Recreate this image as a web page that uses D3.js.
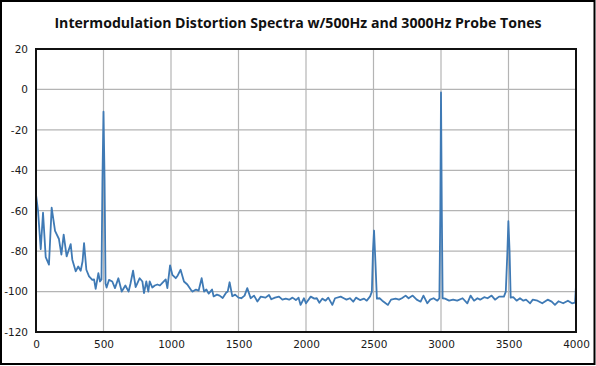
<!DOCTYPE html>
<html><head><meta charset="utf-8">
<script src="https://cdn.jsdelivr.net/npm/d3@7"></script>
<style>body{margin:0;background:#fff}svg{display:block}</style>
</head><body>
<script>
const titleText = "Intermodulation Distortion Spectra w/500Hz and 3000Hz Probe Tones";
const xTicks = [0,500,1000,1500,2000,2500,3000,3500,4000];
const yTicks = [20,0,-20,-40,-60,-80,-100,-120];
const freqs = [0,15,35,52,72,96,116,141,170,188,205,227,257,269,294,313,331,345,356,373,393,417,430,442,462,474,485,492,500,508,515,523,541,565,585,610,635,662,686,700,719,738,768,788,800,817,832,842,862,880,899,918,936,961,973,993,1010,1035,1050,1071,1096,1121,1146,1160,1185,1205,1227,1245,1262,1279,1304,1316,1340,1360,1383,1408,1420,1434,1454,1475,1500,1521,1545,1565,1590,1615,1640,1665,1700,1726,1743,1770,1800,1825,1850,1875,1900,1925,1945,1960,1985,2000,2035,2062,2080,2099,2120,2145,2165,2195,2215,2257,2280,2300,2325,2350,2370,2400,2430,2450,2475,2488,2496,2504,2514,2525,2545,2565,2590,2607,2630,2664,2689,2710,2738,2760,2790,2820,2849,2870,2899,2920,2945,2973,2988,2995,3000,3006,3012,3030,3060,3090,3120,3160,3195,3219,3245,3270,3290,3320,3345,3375,3400,3430,3466,3480,3492,3499,3508,3516,3535,3560,3585,3610,3630,3660,3680,3715,3750,3790,3820,3844,3870,3905,3940,3970,3993,4000];
const levels = [-52,-60,-79,-61,-83,-86.7,-58.5,-70,-74,-81.7,-71.8,-82.6,-76.5,-84.2,-90,-87.6,-89.7,-85,-76,-89.2,-92.5,-94.2,-94,-98.7,-90.9,-95,-94,-45,-11,-45,-96,-98,-94.2,-95,-98.3,-93.4,-100,-97,-100,-96,-89.7,-97.8,-93.4,-95,-100.8,-95,-100,-95,-98,-97,-96.5,-97,-95.7,-94,-98.3,-87,-91.7,-93.4,-92,-89.2,-95,-96.5,-99,-100,-99,-99.5,-93.4,-100,-99,-101,-99,-102.4,-101.5,-102,-103.2,-100.6,-100,-95.4,-102.3,-101.5,-103,-103.3,-102,-98.3,-103.3,-102,-104.9,-102.5,-103,-101.7,-103.8,-103,-102.5,-104,-103.5,-104,-103,-104.2,-103,-106.6,-103.3,-105.8,-102.5,-103.5,-103.3,-105.5,-103.5,-104.5,-103,-106.6,-103.3,-102.5,-103.3,-104,-103.3,-105,-103,-104.2,-103.5,-104.5,-102.4,-100,-80,-69.8,-85,-103.5,-103.3,-104.5,-105.8,-106.6,-104,-103.5,-104,-103.3,-102,-103.3,-102,-104,-105,-102,-105.8,-104,-103.3,-104.5,-103.3,-60,-1.5,-60,-103.3,-103.5,-104.5,-104,-104.5,-103.3,-105.8,-102,-104.5,-103.3,-104,-102.8,-103.3,-102,-104,-102.5,-102.5,-100,-80,-65.2,-80,-103,-102.8,-104.5,-103.3,-104.5,-104,-105.8,-104,-104.5,-105.8,-104,-105,-106.6,-104.8,-105.8,-104.5,-105.8,-105.5,-97];

const W = 596, H = 366;
const m = {left:36, right:20, top:49, bottom:34};
const svg = d3.select("body").append("svg").attr("width",W).attr("height",H);
svg.append("rect").attr("x",1).attr("y",1).attr("width",W-2.5).attr("height",H-3)
  .attr("fill","#fff").attr("stroke","#000").attr("stroke-width",2);

const x = d3.scaleLinear().domain([0,4000]).range([m.left, W-m.right]);
const y = d3.scaleLinear().domain([-120,20]).range([H-m.bottom, m.top]);

// grid
const g = svg.append("g");
g.selectAll(".vg").data(xTicks.slice(1,-1)).join("line")
  .attr("x1",d=>x(d)).attr("x2",d=>x(d)).attr("y1",y(20)).attr("y2",y(-120))
  .attr("stroke","#b4b4b4").attr("stroke-width",1.2);
g.selectAll(".hg").data(yTicks.slice(1,-1)).join("line")
  .attr("x1",x(0)).attr("x2",x(4000)).attr("y1",d=>y(d)).attr("y2",d=>y(d))
  .attr("stroke","#b4b4b4").attr("stroke-width",1.2);

// axes labels
const xAxis = d3.axisBottom(x).tickValues(xTicks).tickSize(0).tickPadding(9).tickFormat(d3.format("d"));
const yAxis = d3.axisLeft(y).tickValues(yTicks).tickSize(0).tickPadding(8)
  .tickFormat(d=>d<0?"-"+Math.abs(d):String(d));
const gx = svg.append("g").attr("transform",`translate(0,${y(-120)})`).call(xAxis);
const gy = svg.append("g").attr("transform",`translate(${x(0)},0)`).call(yAxis);
[gx,gy].forEach(a=>{a.select(".domain").remove();
  a.selectAll("text").attr("font-family","DejaVu Sans, sans-serif").attr("font-size",10.5).attr("fill","#1a1a1a");});

// line
const pts = freqs.map((f,i)=>[f,levels[i]]);
svg.append("path").datum(pts)
  .attr("fill","none").attr("stroke","#3f7ab5").attr("stroke-width",1.8)
  .attr("stroke-linejoin","round")
  .attr("d", d3.line().x(d=>x(d[0])).y(d=>y(d[1])));

// frame
svg.append("rect").attr("x",x(0)).attr("y",y(20)).attr("width",x(4000)-x(0)).attr("height",y(-120)-y(20))
  .attr("fill","none").attr("stroke","#111").attr("stroke-width",2);

// title
const t = svg.append("text").attr("x",298).attr("y",28).attr("text-anchor","middle")
  .attr("font-family","'Open Sans', sans-serif").attr("font-weight","bold").attr("font-size",14)
  .attr("fill","#111").text(titleText);
const len = t.node().getComputedTextLength();
t.attr("font-size", 14*488/len);
</script>
</body></html>
